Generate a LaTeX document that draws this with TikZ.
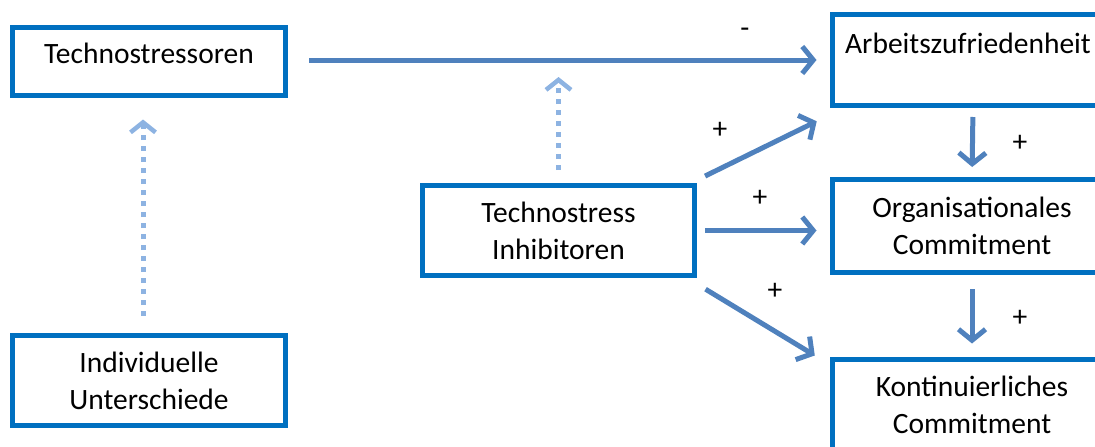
\documentclass[tikz,border=0pt]{standalone}
\usepackage{fontspec}
\setmainfont{Carlito}
\usetikzlibrary{arrows.meta,calc}

\definecolor{boxblue}{RGB}{0,112,192}
\definecolor{arrowblue}{RGB}{79,129,189}
\definecolor{lightblue}{RGB}{141,179,226}

\tikzset{
  stdfont/.style={font=\fontsize{29.5pt}{37pt}\selectfont},
  concept/.style={draw=boxblue, line width=5pt, fill=white, stdfont,
    align=center, inner sep=0pt, minimum width=273pt, minimum height=90pt},
  effect/.style={draw=arrowblue, line width=5pt,
    -{Straight Barb[length=11pt,width=27pt,line width=5pt]}},
  moderator/.style={draw=lightblue, line width=5pt, line cap=butt,
    dash pattern=on 5pt off 6pt,
    -{Straight Barb[length=10pt,width=25pt,line width=4.5pt,line cap=butt]}},
  sign/.style={stdfont, inner sep=0pt}
}

\begin{document}
\begin{tikzpicture}[x=1pt,y=-1pt]
  \useasboundingbox (0,0) rectangle (1095,447);
  \clip (0,0) rectangle (1095,447);

  % constructs on the left
  \node[concept, minimum height=68pt, text depth=16pt] (tso) at (149,61) {Technostressoren};
  \node[concept] (ind) at (149,380.5) {Individuelle\\Unterschiede};
  % inhibitors in the middle
  \node[concept, minimum width=272pt] (inh) at (558.5,230.5) {Technostress\\Inhibitoren};
  % outcome constructs on the right
  \node[concept, minimum width=272pt, minimum height=91pt, text depth=33pt] (az) at (968,60) {Arbeitszufriedenheit};
  \node[concept, minimum width=280pt, minimum height=93pt] (org) at (972,226) {Organisationales\\Commitment};
  \node[concept, minimum width=280pt, minimum height=92pt] (kon) at (972,405) {Kontinuierliches\\Commitment};

  % main effect of the stressors
  \draw[effect, shorten <=21pt, shorten >=13pt] (tso.east |- az.west) -- (az.west)
    coordinate[pos=0.53] (moderated);
  \node[sign] (neg) at (745,33) {-};

  % moderating influences
  \draw[moderator, shorten <=17pt, shorten >=22pt] ([xshift=-6pt]ind.north) -- ([xshift=-6pt]tso.south);
  \draw[moderator, shorten <=13pt, shorten >=17pt] (inh.north) -- (inh.north |- moderated);

  % effects of the inhibitors
  \draw[effect, shorten <=9pt, shorten >=12pt] ([yshift=3pt]inh.north east) -- ([xshift=-2pt,yshift=-8pt]az.south west);
  \draw[effect, shorten <=8pt, shorten >=13pt] (inh.east) -- (inh.east -| org.west);
  \draw[effect, shorten <=10pt, shorten >=2pt] ([yshift=-6pt]inh.south east) -- ([xshift=-13pt]kon.north west);
  \node[sign] (p1) at (720,130) {+};
  \node[sign] (p2) at (760,198) {+};
  \node[sign] (p3) at (775,291) {+};

  % chain between the outcomes
  \draw[effect, shorten <=9pt, shorten >=10pt] ([xshift=5pt]az.south) -- (org.north);
  \draw[effect, shorten <=14pt, shorten >=13pt] (org.south) -- (kon.north);
  \node[sign] (p4) at (1020,143) {+};
  \node[sign] (p5) at (1020,318) {+};
\end{tikzpicture}
\end{document}
